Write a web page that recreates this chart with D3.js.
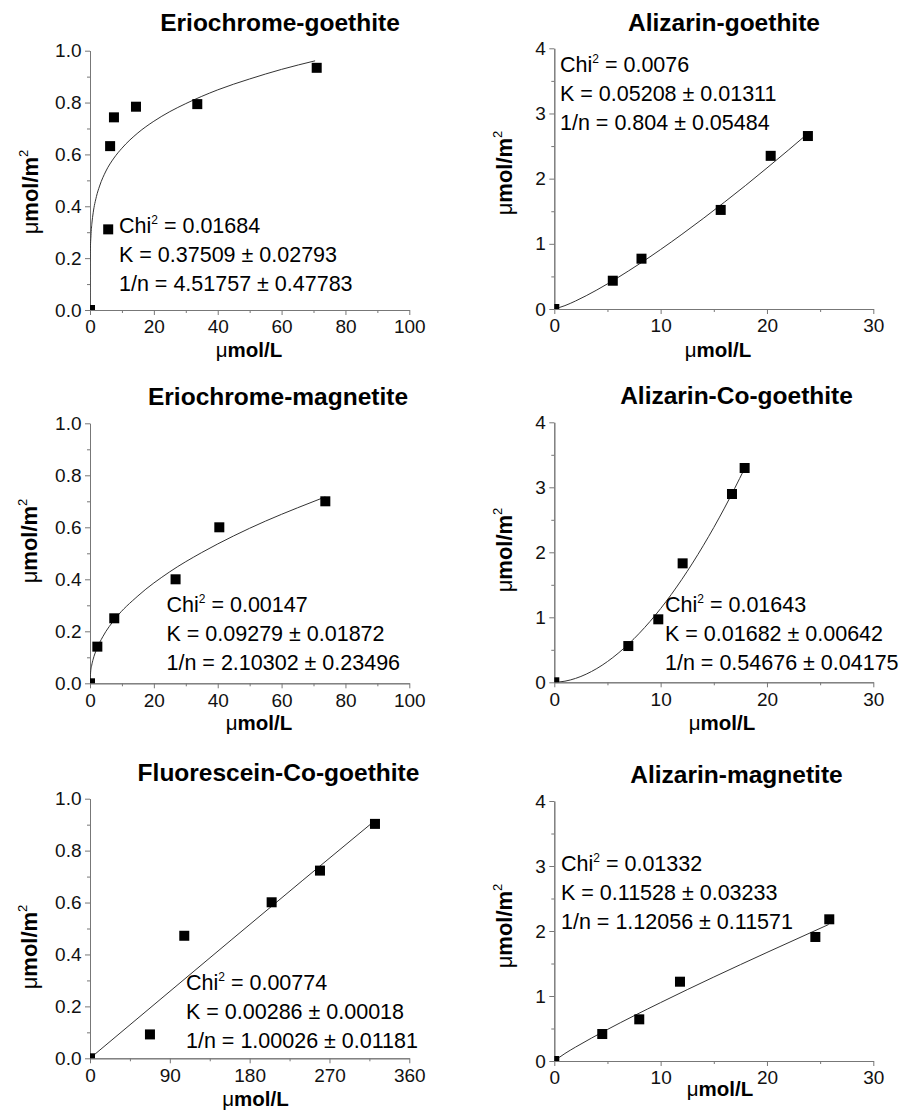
<!DOCTYPE html>
<html>
<head>
<meta charset="utf-8">
<script src="https://d3js.org/d3.v7.min.js"></script>
<style>
	body { margin: 0; background: #fff; }
	text { font-family: "Liberation Sans", Arial, sans-serif; fill: #000; }
	.domain, .tick line { stroke: #777; stroke-width: 1; }
	.tick text { font-size: 19px; fill: #111; }
</style>
</head>
<body>
<div id="chart"></div>
<script>

	// ---- values ----
	// Eriochrome-goethite
	var egX = [0, 5.7, 6.3, 7.5, 14.4, 33.6, 71.0];
	var egY = [0, 0.311, 0.632, 0.743, 0.784, 0.794, 0.934];
	var egFitX = [0, 0.01, 0.05, 0.1, 0.3, 0.6, 1, 2, 3, 5, 7.5, 10, 15, 20, 25, 30, 40, 50, 60, 70.5];
	var egFitY = [0, 0.135, 0.193, 0.225, 0.287, 0.335, 0.375, 0.437, 0.478, 0.536, 0.586, 0.624, 0.683, 0.728, 0.765, 0.796, 0.849, 0.891, 0.928, 0.961];
	var egStats = ["0.01684", "K = 0.37509 \u00b1 0.02793", "1/n = 4.51757 \u00b1 0.47783"];

	// Alizarin-goethite
	var agX = [0, 5.5, 8.2, 15.65, 20.35, 23.85];
	var agY = [0, 0.434, 0.772, 1.52, 2.35, 2.654];
	var agFitX = [0, 1, 2, 4, 6, 8, 10, 12, 14, 16, 18, 20, 22, 23.8];
	var agFitY = [0, 0.052, 0.123, 0.292, 0.484, 0.692, 0.913, 1.146, 1.388, 1.639, 1.897, 2.164, 2.436, 2.686];
	var agStats = ["0.0076", "K = 0.05208 \u00b1 0.01311", "1/n = 0.804 \u00b1 0.05484"];

	// Eriochrome-magnetite
	var emX = [0, 2.3, 7.6, 26.8, 40.5, 73.7];
	var emY = [0, 0.141, 0.25, 0.40, 0.60, 0.70];
	var emFitX = [0, 0.2, 0.5, 1, 2, 4, 8, 15, 25, 35, 45, 55, 65, 73.7];
	var emFitY = [0, 0.043, 0.067, 0.093, 0.129, 0.179, 0.250, 0.336, 0.429, 0.503, 0.567, 0.624, 0.675, 0.717];
	var emStats = ["0.00147", "K = 0.09279 \u00b1 0.01872", "1/n = 2.10302 \u00b1 0.23496"];

	// Alizarin-Co-goethite
	var acX = [0, 6.96, 9.78, 12.07, 16.71, 17.9];
	var acY = [0, 0.558, 0.969, 1.83, 2.897, 3.297];
	var acFitX = [0, 1, 2, 4, 6, 8, 10, 12, 14, 16, 17.9];
	var acFitY = [0, 0.017, 0.060, 0.212, 0.446, 0.755, 1.134, 1.584, 2.10, 2.68, 3.29];
	var acStats = ["0.01643", "K = 0.01682 \u00b1 0.00642", "1/n = 0.54676 \u00b1 0.04175"];

	// Fluorescein-Co-goethite
	var fcX = [0, 67.6, 106.3, 204.8, 259.3, 321.3];
	var fcY = [0, 0.092, 0.472, 0.601, 0.723, 0.903];
	var fcFitX = [0, 80, 160, 240, 321.3];
	var fcFitY = [0, 0.229, 0.458, 0.686, 0.916];
	var fcStats = ["0.00774", "K = 0.00286 \u00b1 0.00018", "1/n = 1.00026 \u00b1 0.01181"];

	// Alizarin-magnetite
	var amX = [0, 4.51, 7.99, 11.82, 24.55, 25.86];
	var amY = [0, 0.415, 0.641, 1.22, 1.908, 2.18];
	var amFitX = [0, 1, 2, 5, 10, 15, 20, 25.8];
	var amFitY = [0, 0.115, 0.214, 0.485, 0.899, 1.292, 1.670, 2.10];
	var amStats = ["0.01332", "K = 0.11528 \u00b1 0.03233", "1/n = 1.12056 \u00b1 0.11571"];

	// tick values
	var xTicks100 = [0, 20, 40, 60, 80, 100], xMinor100 = [10, 30, 50, 70, 90];
	var xTicks30 = [0, 10, 20, 30], xMinor30 = [5, 15, 25];
	var xTicks360 = [0, 90, 180, 270, 360], xMinor360 = [45, 135, 225, 315];
	var yTicks1 = [0, 0.2, 0.4, 0.6, 0.8, 1.0], yMinor1 = [0.1, 0.3, 0.5, 0.7, 0.9];
	var yTicks4 = [0, 1, 2, 3, 4], yMinor4 = [0.5, 1.5, 2.5, 3.5];

	// panel layout (pixel boxes measured on the figure)
	var panels = [
		{title: "Eriochrome-goethite", px: egX, py: egY, fx: egFitX, fy: egFitY, stats: egStats,
		 xt: xTicks100, xm: xMinor100, yt: yTicks1, ym: yMinor1, yfmt: ".1f",
		 l: 90, r: 409.3, t: 50.7, b: 310, tx: 280, ty: 31, sx: 119, sy: 233,
		 xlx: 249, xly: 357, ylx: 38, yly: 192},
		{title: "Alizarin-goethite", px: agX, py: agY, fx: agFitX, fy: agFitY, stats: agStats,
		 xt: xTicks30, xm: xMinor30, yt: yTicks4, ym: yMinor4, yfmt: "d",
		 l: 554.3, r: 873.3, t: 48.3, b: 309, tx: 724, ty: 31, sx: 560, sy: 72,
		 xlx: 718, xly: 357, ylx: 512, yly: 173},
		{title: "Eriochrome-magnetite", px: emX, py: emY, fx: emFitX, fy: emFitY, stats: emStats,
		 xt: xTicks100, xm: xMinor100, yt: yTicks1, ym: yMinor1, yfmt: ".1f",
		 l: 90, r: 409.3, t: 423.3, b: 683.3, tx: 278, ty: 405, sx: 166.5, sy: 612,
		 xlx: 259, xly: 730, ylx: 37, yly: 541},
		{title: "Alizarin-Co-goethite", px: acX, py: acY, fx: acFitX, fy: acFitY, stats: acStats,
		 xt: xTicks30, xm: xMinor30, yt: yTicks4, ym: yMinor4, yfmt: "d",
		 l: 554.3, r: 873.3, t: 422.3, b: 682.3, tx: 736.5, ty: 404, sx: 665, sy: 612,
		 xlx: 722, xly: 730, ylx: 512, yly: 550},
		{title: "Fluorescein-Co-goethite", px: fcX, py: fcY, fx: fcFitX, fy: fcFitY, stats: fcStats,
		 xt: xTicks360, xm: xMinor360, yt: yTicks1, ym: yMinor1, yfmt: ".1f",
		 l: 90, r: 409.3, t: 798.7, b: 1058.3, tx: 278.5, ty: 781, sx: 186, sy: 989.5,
		 xlx: 255.5, xly: 1106, ylx: 37, yly: 947},
		{title: "Alizarin-magnetite", px: amX, py: amY, fx: amFitX, fy: amFitY, stats: amStats,
		 xt: xTicks30, xm: xMinor30, yt: yTicks4, ym: yMinor4, yfmt: "d",
		 l: 554.3, r: 873.3, t: 801, b: 1061, tx: 736.5, ty: 783, sx: 561, sy: 871,
		 xlx: 720, xly: 1096, ylx: 512, yly: 926}
	];

	var svg = d3.select("#chart")
		.append("svg")
		.attr("width", 901)
		.attr("height", 1110);

	var markerSize = 10;
	var lineGap = 29;

	panels.forEach(function(p, i) {
		var w = p.r - p.l, h = p.b - p.t;

		var x = d3.scaleLinear()
			.domain([0, p.xt[p.xt.length - 1]])
			.range([0, w]);
		var y = d3.scaleLinear()
			.domain([0, p.yt[p.yt.length - 1]])
			.range([h, 0]);

		var g = svg.append("g")
			.attr("transform", "translate(" + p.l + "," + p.t + ")");

		// clip marks to the plot area
		g.append("clipPath")
			.attr("id", "clip" + i)
			.append("rect")
			.attr("width", w)
			.attr("height", h);

		// minor ticks first, then the labelled axes
		g.append("g")
			.attr("transform", "translate(0," + h + ")")
			.call(d3.axisBottom(x).tickValues(p.xm).tickSize(3).tickSizeOuter(0).tickFormat(""));
		g.append("g")
			.call(d3.axisLeft(y).tickValues(p.ym).tickSize(3).tickSizeOuter(0).tickFormat(""));

		g.append("g")
			.attr("transform", "translate(0," + h + ")")
			.call(d3.axisBottom(x).tickValues(p.xt).tickSize(5).tickSizeOuter(0).tickPadding(5));
		g.append("g")
			.call(d3.axisLeft(y).tickValues(p.yt).tickSize(5).tickSizeOuter(0).tickPadding(3.5)
				.tickFormat(d3.format(p.yfmt)));

		var plot = g.append("g").attr("clip-path", "url(#clip" + i + ")");

		// fitted curve
		var fit = p.fx.map(function(v, k) { return [v, p.fy[k]]; });
		plot.append("path")
			.datum(fit)
			.attr("fill", "none")
			.attr("stroke", "#333")
			.attr("stroke-width", 1)
			.attr("d", d3.line()
				.x(function(d) { return x(d[0]); })
				.y(function(d) { return y(d[1]); })
				.curve(d3.curveMonotoneX));

		// measured points
		var pts = p.px.map(function(v, k) { return [v, p.py[k]]; });
		plot.selectAll("rect.pt")
			.data(pts)
			.enter()
			.append("rect")
			.attr("class", "pt")
			.attr("x", function(d) { return x(d[0]) - markerSize / 2; })
			.attr("y", function(d) { return y(d[1]) - markerSize / 2; })
			.attr("width", markerSize)
			.attr("height", markerSize)
			.attr("fill", "#000");

		// title
		svg.append("text")
			.attr("x", p.tx)
			.attr("y", p.ty)
			.attr("text-anchor", "middle")
			.style("font-size", "24.5px")
			.style("font-weight", "bold")
			.text(p.title);

		// fit statistics
		var chi = svg.append("text")
			.attr("x", p.sx)
			.attr("y", p.sy)
			.style("font-size", "21.5px");
		chi.append("tspan").text("Chi");
		chi.append("tspan").attr("dy", -9).style("font-size", "12px").text("2");
		chi.append("tspan").attr("dy", 9).text(" = " + p.stats[0]);
		for (var k = 1; k < 3; k++) {
			svg.append("text")
				.attr("x", p.sx)
				.attr("y", p.sy + k * lineGap)
				.style("font-size", "21.5px")
				.text(p.stats[k]);
		}

		// x axis label
		var xl = svg.append("text")
			.attr("x", p.xlx)
			.attr("y", p.xly)
			.attr("text-anchor", "middle")
			.style("font-size", "20.5px");
		xl.append("tspan").text("\u03bc");
		xl.append("tspan").style("font-weight", "bold").text("mol/L");

		// y axis label
		var yl = svg.append("text")
			.attr("transform", "translate(" + p.ylx + "," + p.yly + ") rotate(-90)")
			.attr("text-anchor", "middle")
			.style("font-size", "22px");
		yl.append("tspan").text("\u03bc");
		yl.append("tspan").style("font-weight", "bold").text("mol/m");
		yl.append("tspan").attr("dy", -10).style("font-size", "13px").text("2");
	});

</script>
</body>
</html>
